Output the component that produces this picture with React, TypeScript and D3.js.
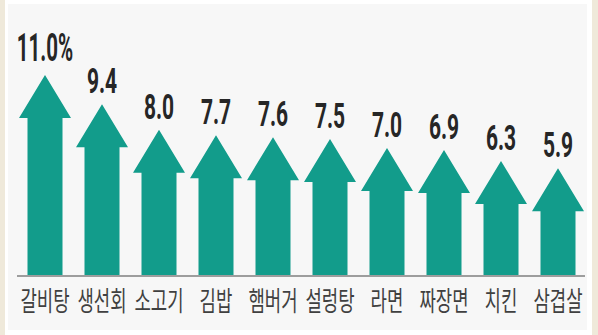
import React from "react";
import * as d3 from "d3";

const categories = ["갈비탕", "생선회", "소고기", "김밥", "햄버거", "설렁탕", "라면", "짜장면", "치킨", "삼겹살"];
const values = [11.0, 9.4, 8.0, 7.7, 7.6, 7.5, 7.0, 6.9, 6.3, 5.9];
const valueLabels = ["11.0%", "9.4", "8.0", "7.7", "7.6", "7.5", "7.0", "6.9", "6.3", "5.9"];

const W = 598;
const H = 335;
const TEAL = "#129c8b";

export default function App() {
  const x = d3.scaleBand<string>().domain(categories).range([16.5, 586.5]);
  const y = d3.scaleLinear().domain([0, 11]).range([276, 75]);
  const headH = 43;
  const headW = 52;
  const shaftW = 35;

  const arrowPath = (cx: number, top: number, base: number) => {
    const p = d3.path();
    p.moveTo(cx, top);
    p.lineTo(cx + headW / 2, top + headH);
    p.lineTo(cx + shaftW / 2, top + headH);
    p.lineTo(cx + shaftW / 2, base);
    p.lineTo(cx - shaftW / 2, base);
    p.lineTo(cx - shaftW / 2, top + headH);
    p.lineTo(cx - headW / 2, top + headH);
    p.closePath();
    return p.toString();
  };

  return (
    <svg
      width={W}
      height={H}
      style={{ position: "fixed", left: 0, top: 0, display: "block" }}
    >
      <rect x={0} y={0} width={W} height={H} fill="#ffffff" />
      <rect x={0} y={0} width={5} height={H} fill="#efe9da" />
      <rect x={592} y={0} width={6} height={H} fill="#efe9da" />
      <rect x={8} y={4} width={579} height={326} fill="#f7f7f7" />
      {categories.map((c, i) => {
        const cx = (x(c) as number) + x.bandwidth() / 2;
        return (
          <path key={c} d={arrowPath(cx, y(values[i]), y(0))} fill={TEAL} />
        );
      })}
      <line x1={17} x2={585} y1={y(0)} y2={y(0)} stroke="#9d9d9d" strokeWidth={2} />
      {categories.map((c, i) => {
        const cx = (x(c) as number) + x.bandwidth() / 2;
        return (
          <text
            key={"v" + c}
            transform={`translate(${cx},${y(values[i]) - (i === 0 ? 14 : 11)}) scale(${i === 0 ? 0.54 : 0.6},1)`}
            textAnchor="middle"
            fontFamily="Roboto, 'Noto Sans', sans-serif"
            fontWeight={700}
            fontSize={i === 0 ? 38 : 35}
            fill="#262626"
          >
            {valueLabels[i]}
          </text>
        );
      })}
      {categories.map((c) => {
        const cx = (x(c) as number) + x.bandwidth() / 2;
        return (
          <text
            key={"c" + c}
            transform={`translate(${cx},${311}) scale(0.66,1)`}
            textAnchor="middle"
            fontFamily="'Noto Sans CJK KR', sans-serif"
            fontWeight={400}
            fontSize={27}
            fill="#404040"
          >
            {c}
          </text>
        );
      })}
    </svg>
  );
}
